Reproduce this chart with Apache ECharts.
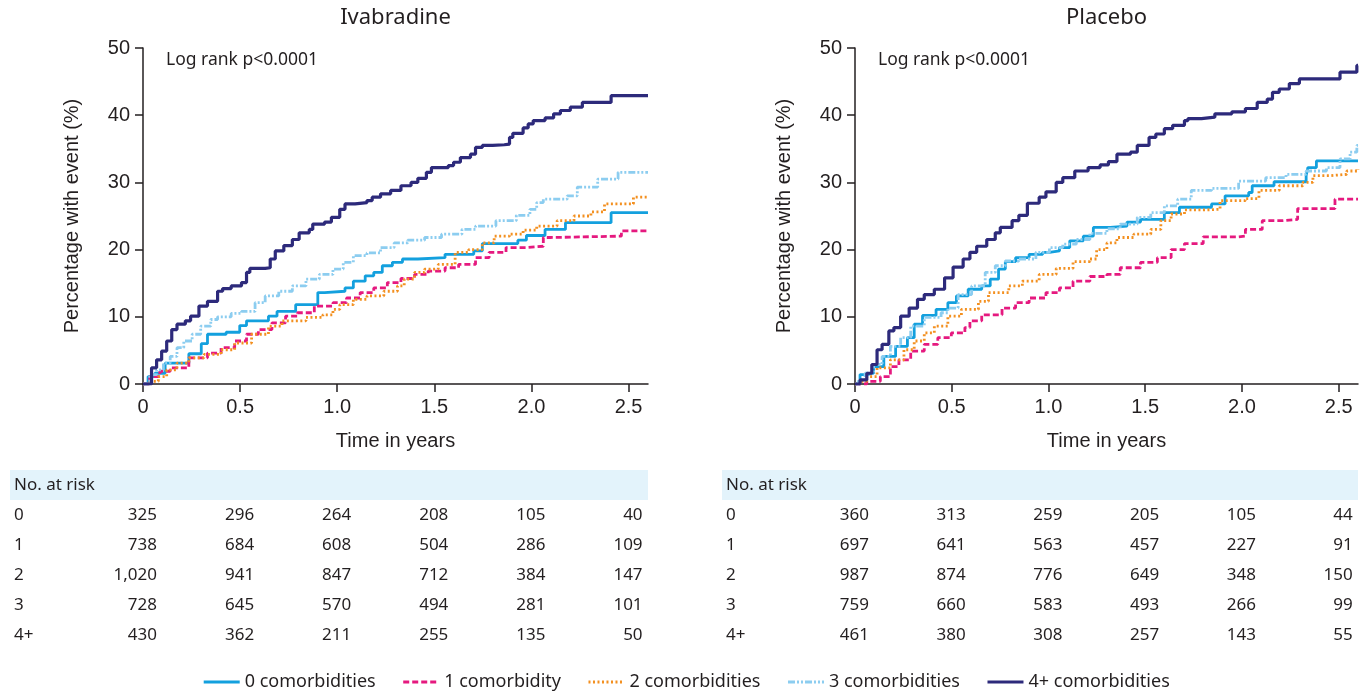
<!DOCTYPE html>
<html><head><meta charset="utf-8">
<script src="https://cdn.jsdelivr.net/npm/echarts@6/dist/echarts.min.js"></script>
<style>html,body{margin:0;padding:0;background:#fff}#c{width:1372px;height:691px}</style>
</head><body><div id="c"></div><script>
// ---------- data ----------
const seriesNames = ['0 comorbidities', '1 comorbidity', '2 comorbidities', '3 comorbidities', '4+ comorbidities'];
const panelTitles = ['Ivabradine', 'Placebo'];
const logRankText = 'Log rank p<0.0001';
const xTickValues = [0, 0.5, 1, 1.5, 2, 2.5];
const xTickLabels = ['0', '0.5', '1.0', '1.5', '2.0', '2.5'];
const riskTimes = [0, 0.5, 1, 1.5, 2, 2.5];
const riskGroups = ['0', '1', '2', '3', '4+'];
const riskHeader = 'No. at risk';

// Ivabradine: [time (years), cumulative % with event]
const iva0 = [[0,0],[0.026,1.1],[0.061,1.6],[0.114,3.1],[0.236,4.5],[0.30,6.0],[0.332,7.4],[0.428,7.7],[0.498,8.7],[0.533,9.4],[0.646,10.1],[0.69,10.8],[0.786,11.8],[0.90,13.6],[0.935,13.8],[1.04,14.3],[1.083,15.3],[1.144,16.1],[1.188,16.6],[1.232,17.6],[1.284,18.1],[1.336,18.6],[1.415,18.8],[1.555,19.3],[1.703,19.8],[1.747,20.9],[1.93,21.4],[1.974,22.1],[2.07,23.0],[2.175,24.0],[2.41,25.5],[2.6,25.5]];
const iva1 = [[0,0],[0.035,1.1],[0.087,1.9],[0.14,2.4],[0.236,3.9],[0.332,4.6],[0.402,5.4],[0.472,6.4],[0.533,7.4],[0.594,8.1],[0.664,9.1],[0.734,10.1],[0.795,10.6],[0.882,11.6],[0.978,12.1],[1.048,12.8],[1.118,13.6],[1.188,14.3],[1.258,15.1],[1.328,15.7],[1.398,16.3],[1.468,16.8],[1.555,17.3],[1.625,17.8],[1.712,18.8],[1.782,19.6],[1.869,20.3],[1.974,20.5],[2.061,21.8],[2.096,22.0],[2.463,22.8],[2.6,22.8]];
const iva2 = [[0,0],[0.035,0.4],[0.079,1.1],[0.122,2.1],[0.175,3.1],[0.236,3.9],[0.314,4.4],[0.402,5.1],[0.472,6.1],[0.559,7.4],[0.646,8.6],[0.716,9.4],[0.839,9.9],[0.926,10.3],[0.978,11.1],[1.013,11.8],[1.083,12.6],[1.153,13.1],[1.24,13.8],[1.31,14.6],[1.345,15.6],[1.398,16.6],[1.45,17.1],[1.52,17.8],[1.607,19.6],[1.677,20.0],[1.747,21.0],[1.808,22.0],[1.887,22.3],[1.957,22.9],[2.027,23.5],[2.132,24.3],[2.219,25.0],[2.306,25.6],[2.376,26.8],[2.525,27.8],[2.6,27.8]];
const iva3 = [[0,0],[0.035,1.4],[0.07,2.1],[0.105,3.1],[0.14,4.1],[0.175,5.4],[0.21,6.4],[0.253,7.4],[0.297,8.6],[0.349,9.6],[0.384,10.0],[0.454,10.5],[0.507,10.8],[0.577,12.1],[0.629,13.1],[0.699,13.8],[0.769,14.6],[0.839,15.6],[0.908,16.3],[0.978,17.1],[1.031,18.1],[1.083,19.1],[1.153,19.5],[1.223,20.3],[1.293,21.0],[1.363,21.4],[1.45,21.8],[1.537,22.3],[1.642,23.0],[1.712,23.5],[1.817,24.3],[1.922,25.1],[1.992,26.0],[2.027,27.0],[2.061,27.5],[2.184,28.0],[2.236,29.3],[2.341,30.5],[2.446,31.5],[2.6,31.5]];
const iva4 = [[0,0],[0.044,2.4],[0.07,3.6],[0.096,4.9],[0.122,6.4],[0.148,8.1],[0.175,8.9],[0.218,9.4],[0.245,10.1],[0.288,11.6],[0.332,12.3],[0.384,13.8],[0.41,14.2],[0.454,14.6],[0.507,15.1],[0.533,16.6],[0.55,17.2],[0.629,17.3],[0.655,18.6],[0.681,19.8],[0.725,20.6],[0.769,21.5],[0.804,22.5],[0.856,23.0],[0.874,23.8],[0.935,24.1],[0.97,24.8],[1.013,26.0],[1.04,26.8],[1.092,27.0],[1.153,27.3],[1.18,27.8],[1.223,28.3],[1.275,28.8],[1.328,29.5],[1.38,30.0],[1.415,30.6],[1.459,31.5],[1.485,32.2],[1.572,32.5],[1.599,33.0],[1.634,33.7],[1.686,34.2],[1.712,35.2],[1.747,35.5],[1.8,35.6],[1.86,35.7],[1.887,36.7],[1.904,37.3],[1.957,38.1],[1.983,38.7],[2.009,39.2],[2.07,39.6],[2.114,40.2],[2.149,40.7],[2.2,41.2],[2.262,41.9],[2.41,42.9],[2.6,42.9]];

// Placebo
const pla0 = [[0,0],[0.026,1.4],[0.061,1.6],[0.096,2.6],[0.149,4.1],[0.21,5.6],[0.271,6.9],[0.306,8.9],[0.349,10.2],[0.419,11.1],[0.48,12.1],[0.524,13.1],[0.585,14.1],[0.655,14.6],[0.699,15.6],[0.742,17.1],[0.777,18.2],[0.83,18.8],[0.90,19.3],[0.97,19.6],[1.005,19.8],[1.057,20.3],[1.11,21.3],[1.18,22.0],[1.232,23.3],[1.319,23.5],[1.406,24.1],[1.476,24.5],[1.599,25.5],[1.677,26.3],[1.843,26.8],[1.913,28.0],[2.035,28.5],[2.053,29.5],[2.166,30.1],[2.332,31.0],[2.341,32.2],[2.385,33.2],[2.6,33.2]];
const pla1 = [[0,0],[0.061,0.4],[0.131,1.1],[0.183,2.6],[0.227,3.6],[0.288,4.9],[0.358,5.9],[0.428,6.9],[0.498,7.6],[0.568,8.4],[0.594,9.4],[0.655,10.3],[0.76,11.3],[0.83,12.1],[0.90,12.8],[0.987,13.6],[1.057,14.3],[1.127,15.3],[1.214,16.0],[1.302,16.3],[1.371,17.3],[1.476,18.1],[1.563,18.8],[1.634,20.0],[1.703,20.9],[1.80,21.9],[1.983,22.0],[2.018,23.0],[2.105,24.3],[2.21,24.5],[2.288,26.1],[2.481,27.5],[2.6,27.5]];
const pla2 = [[0,0],[0.026,0.4],[0.061,1.1],[0.114,2.4],[0.183,3.6],[0.253,5.1],[0.306,6.4],[0.358,7.6],[0.41,8.6],[0.48,10.1],[0.55,11.1],[0.638,12.3],[0.69,13.6],[0.795,14.6],[0.865,15.3],[0.952,16.3],[1.04,17.2],[1.127,18.2],[1.214,18.6],[1.249,20.0],[1.302,21.0],[1.354,21.8],[1.441,22.3],[1.529,23.0],[1.581,24.3],[1.634,25.3],[1.703,25.9],[1.808,26.0],[1.887,27.3],[2.018,27.6],[2.088,28.8],[2.193,29.5],[2.315,30.0],[2.367,31.0],[2.455,31.2],[2.542,31.7],[2.6,32.0]];
const pla3 = [[0,0],[0.017,0.6],[0.052,1.6],[0.096,2.9],[0.14,4.1],[0.183,5.6],[0.236,6.9],[0.288,8.6],[0.358,9.9],[0.445,10.6],[0.48,11.3],[0.533,13.3],[0.603,14.6],[0.673,16.6],[0.725,17.6],[0.777,18.3],[0.847,18.6],[0.935,19.6],[1.005,20.3],[1.074,20.8],[1.144,21.5],[1.214,22.4],[1.302,23.1],[1.371,23.8],[1.459,24.8],[1.529,25.5],[1.599,26.5],[1.668,27.5],[1.738,28.8],[1.843,29.1],[1.983,30.2],[2.123,30.7],[2.228,31.2],[2.332,31.7],[2.437,32.2],[2.507,33.5],[2.559,34.5],[2.594,35.5],[2.6,35.5]];
const pla4 = [[0,0],[0.026,0.6],[0.061,1.6],[0.087,2.9],[0.114,5.1],[0.14,5.9],[0.175,7.9],[0.201,8.4],[0.236,10.1],[0.28,11.3],[0.323,12.6],[0.358,13.3],[0.41,14.1],[0.463,15.8],[0.507,17.4],[0.559,18.6],[0.594,19.6],[0.629,20.5],[0.681,21.5],[0.725,22.5],[0.751,23.3],[0.812,24.3],[0.847,25.1],[0.891,26.9],[0.952,27.8],[0.987,28.6],[1.04,30.0],[1.074,30.7],[1.136,31.7],[1.205,32.2],[1.267,32.6],[1.31,33.1],[1.354,34.2],[1.424,34.5],[1.459,35.5],[1.52,36.7],[1.555,37.2],[1.599,38.0],[1.642,38.5],[1.703,39.2],[1.721,39.5],[1.791,39.7],[1.86,40.2],[1.948,40.5],[2.018,41.0],[2.079,41.9],[2.131,42.4],[2.158,43.4],[2.193,43.9],[2.245,44.7],[2.297,45.4],[2.507,46.4],[2.594,47.4],[2.6,47.4]];

// Numbers at risk (rows: groups, columns: riskTimes)
const ivaRisk0 = [325, 296, 264, 208, 105, 40];
const ivaRisk1 = [738, 684, 608, 504, 286, 109];
const ivaRisk2 = [1020, 941, 847, 712, 384, 147];
const ivaRisk3 = [728, 645, 570, 494, 281, 101];
const ivaRisk4 = [430, 362, 211, 255, 135, 50];
const plaRisk0 = [360, 313, 259, 205, 105, 44];
const plaRisk1 = [697, 641, 563, 457, 227, 91];
const plaRisk2 = [987, 874, 776, 649, 348, 150];
const plaRisk3 = [759, 660, 583, 493, 266, 99];
const plaRisk4 = [461, 380, 308, 257, 143, 55];

// ---------- styling ----------
const TXT = '#231f20';
const colors = ['#13a0de', '#e5197f', '#f39020', '#8ccdf0', '#2d2a7b'];
const dashes = ['solid', [6, 3], [2, 2.5], [7, 2, 2, 2, 2, 2], 'solid'];
const widths = [2.8, 2.8, 2.8, 2.8, 3.2];
const panelData = [[iva0, iva1, iva2, iva3, iva4], [pla0, pla1, pla2, pla3, pla4]];
const panelRisk = [[ivaRisk0, ivaRisk1, ivaRisk2, ivaRisk3, ivaRisk4], [plaRisk0, plaRisk1, plaRisk2, plaRisk3, plaRisk4]];
const grids = [{left: 143, width: 505, top: 48, height: 336}, {left: 855, width: 503, top: 48, height: 336}];
const TICKFONT = 'Liberation Sans, Arial, sans-serif';
const BODYFONT = 'Noto Sans, sans-serif';

const chart = echarts.init(document.getElementById('c'), null, {renderer: 'canvas'});

const xAxes = grids.map((g, i) => ({
  type: 'value', gridIndex: i, min: 0, max: 2.6,
  name: 'Time in years', nameLocation: 'middle', nameGap: 47,
  nameTextStyle: {fontFamily: TICKFONT, fontSize: 20, color: TXT},
  axisLine: {show: true, onZero: false, lineStyle: {color: TXT, width: 1.5}},
  axisTick: {show: true, length: 8, lineStyle: {color: TXT, width: 1.5}, customValues: xTickValues},
  axisLabel: {fontFamily: TICKFONT, fontSize: 20, color: TXT, margin: 13, customValues: xTickValues,
    formatter: v => xTickLabels[xTickValues.indexOf(v)] ?? ''},
  splitLine: {show: false}
}));
const yAxes = grids.map((g, i) => ({
  type: 'value', gridIndex: i, min: 0, max: 50, interval: 10,
  name: 'Percentage with event (%)', nameLocation: 'middle', nameGap: 61,
  nameTextStyle: {fontFamily: TICKFONT, fontSize: 20, color: TXT},
  axisLine: {show: true, onZero: false, lineStyle: {color: TXT, width: 1.5}},
  axisTick: {show: true, length: 8, lineStyle: {color: TXT, width: 1.5}},
  axisLabel: {fontFamily: TICKFONT, fontSize: 20, color: TXT, margin: 13},
  splitLine: {show: false}
}));

const series = [];
panelData.forEach((arr, p) => {
  arr.forEach((data, k) => {
    series.push({
      name: seriesNames[k], type: 'line', step: 'end', xAxisIndex: p, yAxisIndex: p,
      data: data, symbol: 'none', animation: false, z: 2 + k,
      itemStyle: {color: colors[k]},
      lineStyle: {color: colors[k], width: widths[k], type: dashes[k]}
    });
  });
});

chart.setOption({
  animation: false,
  backgroundColor: '#fff',
  grid: grids,
  xAxis: xAxes,
  yAxis: yAxes,
  legend: {
    data: seriesNames, top: 668, left: 'center', itemWidth: 36, itemHeight: 14, itemGap: 26,
    itemStyle: {opacity: 0},
    lineStyle: {width: 3},
    textStyle: {fontFamily: BODYFONT, fontSize: 18, color: TXT}
  },
  series: series
});

// ---------- titles, annotation and risk tables ----------
const graphics = [];
grids.forEach((g, p) => {
  graphics.push({type: 'text', x: g.left + g.width / 2, y: 18, silent: true,
    style: {text: panelTitles[p], font: '22px ' + BODYFONT, fill: TXT, align: 'center', verticalAlign: 'middle'}});
  graphics.push({type: 'text', x: g.left + 23, y: 60, silent: true,
    style: {text: logRankText, font: '17.5px ' + BODYFONT, fill: TXT, align: 'left', verticalAlign: 'middle'}});
  const bandLeft = p === 0 ? 10 : 722;
  const bandRight = g.left + g.width;
  graphics.push({type: 'rect', shape: {x: bandLeft, y: 470, width: bandRight - bandLeft, height: 30}, silent: true,
    style: {fill: '#e3f3fb'}});
  graphics.push({type: 'text', x: bandLeft + 4, y: 485, silent: true,
    style: {text: riskHeader, font: '17px ' + BODYFONT, fill: TXT, align: 'left', verticalAlign: 'middle'}});
  panelRisk[p].forEach((row, r) => {
    const y = 515 + r * 30;
    graphics.push({type: 'text', x: bandLeft + 4, y: y, silent: true,
      style: {text: riskGroups[r], font: '17px ' + BODYFONT, fill: TXT, align: 'left', verticalAlign: 'middle'}});
    row.forEach((n, c) => {
      const px = chart.convertToPixel({xAxisIndex: p}, riskTimes[c]);
      graphics.push({type: 'text', x: px + 14, y: y, silent: true,
        style: {text: n.toLocaleString('en-US'), font: '17px ' + BODYFONT, fill: TXT, align: 'right', verticalAlign: 'middle'}});
    });
  });
});
chart.setOption({graphic: graphics});
</script></body></html>
